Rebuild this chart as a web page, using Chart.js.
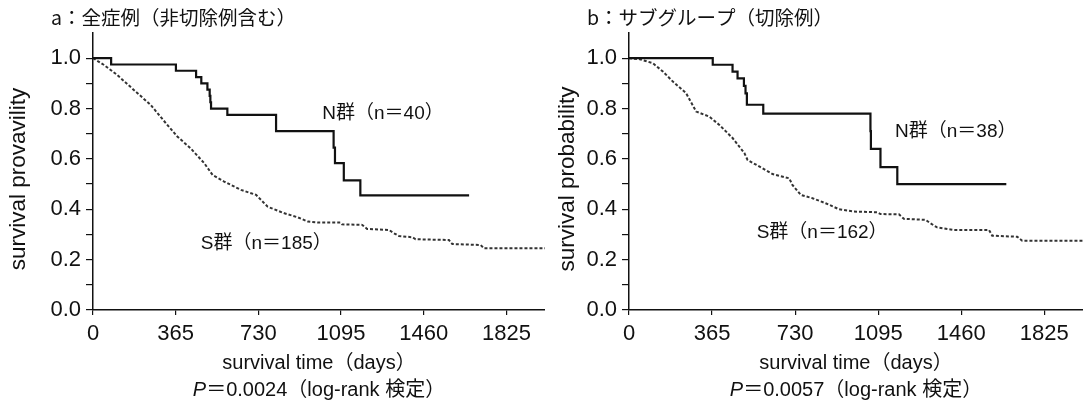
<!DOCTYPE html>
<html>
<head>
<meta charset="utf-8">
<script src="https://cdn.jsdelivr.net/npm/chart.js@4.4.1/dist/chart.umd.min.js"></script>
<style>
  body { margin: 0; background: #fff; }
  #wrap { position: relative; width: 1083px; height: 407px; overflow: hidden; }
  canvas { position: absolute; top: 0; }
</style>
</head>
<body>
<div id="wrap">
  <canvas id="chartA" width="545" height="407" style="left:0"></canvas>
  <canvas id="chartB" width="538" height="407" style="left:545px"></canvas>
</div>
<script>
// axis ticks
var xTicks = [0, 365, 730, 1095, 1460, 1825];
var yTickLabels = ['0.0', '0.2', '0.4', '0.6', '0.8', '1.0'];

// panel a : N群 (n=40)
var aNDays = [0, 80, 366, 455, 478, 505, 515, 518, 521, 593, 808, 1062, 1068, 1107, 1180, 1660];
var aNSurv = [1.0, 0.975, 0.95, 0.925, 0.90, 0.875, 0.85, 0.825, 0.80, 0.775, 0.71, 0.645, 0.583, 0.515, 0.455, 0.455];
// panel a : S群 (n=185)
var aSDays = [0, 47, 106, 180, 254, 328, 372, 431, 491, 528, 579, 653, 720, 771, 845, 904, 949, 1000, 1092, 1099, 1188, 1210, 1306, 1328, 1350, 1409, 1424, 1571, 1586, 1711, 1726, 1995];
var aSSurv = [1.0, 0.974, 0.934, 0.874, 0.815, 0.735, 0.689, 0.642, 0.583, 0.536, 0.51, 0.477, 0.457, 0.41, 0.384, 0.368, 0.351, 0.347, 0.347, 0.340, 0.338, 0.322, 0.318, 0.305, 0.294, 0.289, 0.281, 0.278, 0.262, 0.258, 0.245, 0.245];

// panel b : N群 (n=38)
var bNDays = [0, 368, 455, 477, 505, 512, 518, 590, 1061, 1063, 1105, 1179, 1658];
var bNSurv = [1.0, 0.974, 0.947, 0.92, 0.89, 0.86, 0.815, 0.78, 0.71, 0.64, 0.567, 0.50, 0.50];
// panel b : S群 (n=162)
var bSDays = [0, 47, 105, 149, 193, 251, 295, 353, 397, 456, 507, 521, 572, 631, 704, 718, 755, 806, 864, 923, 988, 1091, 1105, 1186, 1208, 1303, 1325, 1354, 1413, 1428, 1582, 1596, 1706, 1728, 1995];
var bSSurv = [1.0, 0.996, 0.98, 0.947, 0.907, 0.861, 0.788, 0.768, 0.735, 0.682, 0.623, 0.596, 0.57, 0.54, 0.523, 0.497, 0.457, 0.444, 0.424, 0.40, 0.391, 0.388, 0.381, 0.380, 0.362, 0.358, 0.344, 0.328, 0.32, 0.318, 0.318, 0.295, 0.291, 0.275, 0.275];

var FONT = "'Liberation Sans', 'Noto Sans CJK JP', sans-serif";
var INK = '#111';

function pts(days, surv) {
    return days.map(function (d, i) { return { x: d, y: surv[i] }; });
}

// panel title, rotated y title, group labels and the P value line
var panelText = {
    id: 'panelText',
    afterDraw: function (chart) {
        var o = chart.options.plugins.panelText;
        var ctx = chart.ctx, area = chart.chartArea;
        var xs = chart.scales.x, ys = chart.scales.y;
        ctx.save();
        ctx.fillStyle = INK;
        ctx.textBaseline = 'middle';
        ctx.textAlign = 'left';
        ctx.font = "19.5px 'Noto Sans CJK JP', sans-serif";
        ctx.fillText(o.title, area.left - 42, 18);

        ctx.font = '19px ' + FONT;
        o.labels.forEach(function (l) {
            ctx.fillText(l.text, xs.getPixelForValue(l.x), ys.getPixelForValue(l.y));
        });

        ctx.save();
        ctx.translate(o.yTitleX, 179);
        ctx.rotate(-Math.PI / 2);
        ctx.textAlign = 'center';
        ctx.font = '22.5px ' + FONT;
        ctx.fillText(o.yTitle, 0, 0);
        ctx.restore();

        ctx.font = 'italic 20px ' + FONT;
        var pw = ctx.measureText('P').width;
        ctx.font = '20px ' + FONT;
        var rw = ctx.measureText(o.pText).width;
        var x0 = (area.left + area.right) / 2 - (pw + rw) / 2;
        ctx.font = 'italic 20px ' + FONT;
        ctx.fillText('P', x0, 390);
        ctx.font = '20px ' + FONT;
        ctx.fillText(o.pText, x0 + pw, 390);
        ctx.restore();
    }
};

function makeChart(id, cfg) {
    var ctx = document.getElementById(id).getContext('2d');
    return new Chart(ctx, {
        type: 'line',
        data: {
            datasets: [{
                label: 'N',
                data: pts(cfg.nDays, cfg.nSurv),
                stepped: true,
                borderColor: INK,
                borderWidth: 2.2,
                pointRadius: 0,
                fill: false
            }, {
                label: 'S',
                data: pts(cfg.sDays, cfg.sSurv),
                borderColor: '#333',
                borderWidth: 2,
                borderDash: [3, 2],
                pointRadius: 0,
                tension: 0,
                fill: false
            }]
        },
        options: {
            responsive: false,
            animation: false,
            devicePixelRatio: 1,
            layout: { padding: { top: 33, bottom: 31, left: 0, right: 0 } },
            plugins: {
                legend: { display: false },
                tooltip: { enabled: false },
                panelText: {
                    title: cfg.title,
                    yTitle: cfg.yTitle,
                    yTitleX: cfg.yTitleX,
                    labels: cfg.labels,
                    pText: cfg.pText
                }
            },
            scales: {
                x: {
                    type: 'linear',
                    min: 0,
                    max: 1995,
                    afterBuildTicks: function (s) {
                        s.ticks = xTicks.map(function (v) { return { value: v }; });
                    },
                    afterFit: function (s) { s.height = 66; },
                    ticks: {
                        autoSkip: false,
                        maxRotation: 0,
                        padding: 6,
                        color: INK,
                        font: { family: FONT, size: 22 },
                        callback: function (v) { return String(v); }
                    },
                    grid: { drawOnChartArea: false, tickLength: 5, color: INK, lineWidth: 1.2 },
                    border: { color: INK, width: 1.5 },
                    title: {
                        display: true,
                        text: 'survival time（days）',
                        color: INK,
                        font: { family: FONT, size: 20 },
                        padding: { top: 0, bottom: 1 }
                    }
                },
                y: {
                    min: 0,
                    max: 1.1,
                    afterBuildTicks: function (s) {
                        var t = [];
                        for (var i = 0; i <= 10; i++) t.push({ value: i / 10 });
                        s.ticks = t;
                    },
                    afterFit: function (s) { s.width = cfg.yWidth; },
                    ticks: {
                        autoSkip: false,
                        padding: 5,
                        color: INK,
                        font: { family: FONT, size: 22 },
                        callback: function (v) {
                            var t = v.toFixed(1);
                            return yTickLabels.indexOf(t) >= 0 ? t : '';
                        }
                    },
                    grid: { drawOnChartArea: false, tickLength: 7, color: INK, lineWidth: 1.2 },
                    border: { color: INK, width: 1.5 },
                    title: { display: false }
                }
            }
        },
        plugins: [panelText]
    });
}

makeChart('chartA', {
    nDays: aNDays, nSurv: aNSurv, sDays: aSDays, sSurv: aSSurv,
    title: 'a：全症例（非切除例含む）',
    yTitle: 'survival provavility',
    yTitleX: 19,
    yWidth: 93,
    pText: '＝0.0024（log-rank 検定）',
    labels: [
        { text: 'N群（n＝40）', x: 1012, y: 0.78 },
        { text: 'S群（n＝185）', x: 476, y: 0.265 }
    ]
});

makeChart('chartB', {
    nDays: bNDays, nSurv: bNSurv, sDays: bSDays, sSurv: bSSurv,
    title: 'b：サブグループ（切除例）',
    yTitle: 'survival probability',
    yTitleX: 23,
    yWidth: 84,
    pText: '＝0.0057（log-rank 検定）',
    labels: [
        { text: 'N群（n＝38）', x: 1169, y: 0.708 },
        { text: 'S群（n＝162）', x: 561, y: 0.305 }
    ]
});
</script>
</body>
</html>
